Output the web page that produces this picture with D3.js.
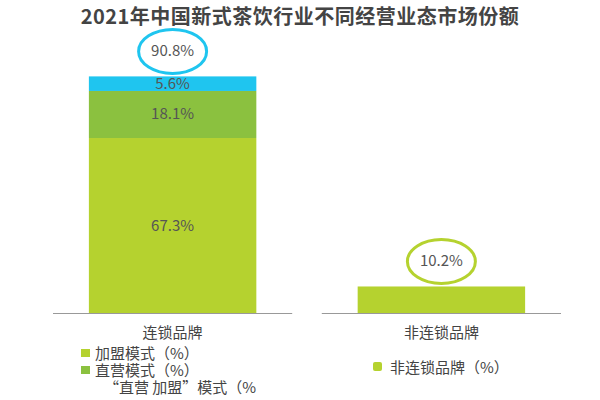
<!DOCTYPE html><html><head><meta charset="utf-8"><script src="https://cdn.jsdelivr.net/npm/d3@7"></script>
<style>body{margin:0;background:#fff}text{font-family:"Noto Sans CJK SC","Open Sans",sans-serif}</style></head><body><svg id="c" width="600" height="400"></svg><script>
const categories=["连锁品牌","非连锁品牌"];
const franchise=[67.3,10.2];
const direct=[18.1,0];
const mixed=[5.6,0];
const totals=["90.8%","10.2%"];
const svg=d3.select("#c");
const colors=["#b5d22f","#8bc13f","#1fc5ef"];
const x=d3.scaleBand().domain(categories).range([53,561]).paddingInner(0.11).paddingOuter(0);
const y=d3.scaleLinear().domain([0,100]).range([313,53]);
svg.append("text").attr("x",300).attr("y",24).attr("text-anchor","middle").attr("font-size",20).attr("font-weight","bold").attr("letter-spacing",0.5).attr("fill","#444").text("2021年中国新式茶饮行业不同经营业态市场份额");
categories.forEach((c,i)=>{
  const bw=x.bandwidth()*0.70, bx=x(c)+(x.bandwidth()-bw)/2;
  let acc=0;
  [franchise,direct,mixed].forEach((s,k)=>{
    const v=s[i]; if(!v)return;
    svg.append("rect").attr("x",bx).attr("width",bw).attr("y",y(acc+v)).attr("height",y(acc)-y(acc+v)).attr("fill",colors[k]);
    if(i===0) svg.append("text").attr("x",bx+bw/2).attr("y",(y(acc)+y(acc+v))/2+5).attr("text-anchor","middle").attr("font-size",15).attr("fill","#555").text(v.toFixed(1)+"%");
    acc+=v;
  });
  const cx=bx+bw/2, cy=y(acc)-25;
  svg.append("ellipse").attr("cx",cx).attr("cy",cy).attr("rx",34).attr("ry",22).attr("fill","none").attr("stroke",i===0?colors[2]:colors[0]).attr("stroke-width",3);
  svg.append("text").attr("x",cx).attr("y",cy+5).attr("text-anchor","middle").attr("font-size",15).attr("fill","#555").text(totals[i]);
  svg.append("line").attr("x1",x(c)).attr("x2",x(c)+x.bandwidth()).attr("y1",313.5).attr("y2",313.5).attr("stroke","#999");
  svg.append("text").attr("x",cx).attr("y",338).attr("text-anchor","middle").attr("font-size",15).attr("fill","#444").text(c);
});
const lg=[["加盟模式（%）",colors[0],359],["直营模式（%）",colors[1],376],["“直营  加盟”模式（%",null,393]];
lg.forEach(d=>{
  if(d[1]) svg.append("rect").attr("x",81).attr("y",d[2]-10).attr("width",9).attr("height",8).attr("fill",d[1]);
  svg.append("text").attr("x",d[1]?95:104).attr("y",d[2]).attr("font-size",15).attr("fill","#444").text(d[0]);
});
svg.append("rect").attr("x",373).attr("y",362).attr("width",9).attr("height",9).attr("rx",2).attr("fill",colors[0]);
svg.append("text").attr("x",390).attr("y",373).attr("font-size",15).attr("fill","#444").text("非连锁品牌（%）");
</script></body></html>
